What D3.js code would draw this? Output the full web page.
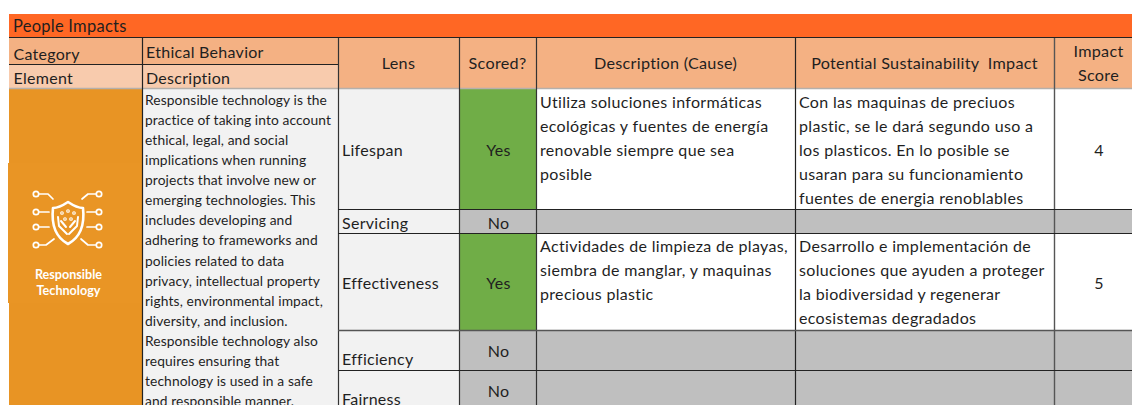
<!DOCTYPE html>
<html><head><meta charset="utf-8">
<script src="https://cdn.jsdelivr.net/npm/d3@7"></script>
<style>html,body{margin:0;padding:0;background:#fff;overflow:hidden}svg{display:block}text{font-family:Lato,"Open Sans",sans-serif;fill:#1f1f1f}</style>
</head><body><svg id="c" width="1132" height="405"></svg>
<script>
const title = "People Impacts";
const categoryLabel = "Category", categoryValue = "Ethical Behavior";
const elementLabel = "Element", elementValue = "Description";
const columnHeaders = ["Lens", "Scored?", "Description (Cause)", "Potential Sustainability  Impact", ["Impact", "Score"]];
const lenses = ["Lifespan", "Servicing", "Effectiveness", "Efficiency", "Fairness"];
const scored = ["Yes", "No", "Yes", "No", "No"];
const causes = [
  ["Utiliza soluciones informáticas", "ecológicas y fuentes de energía", "renovable siempre que sea", "posible"],
  [],
  ["Actividades de limpieza de playas,", "siembra de manglar, y maquinas", "precious plastic"],
  [], []
];
const impacts = [
  ["Con las maquinas de preciuos", "plastic, se le dará segundo uso a", "los plasticos. En lo posible se", "usaran para su funcionamiento", "fuentes de energia renoblables"],
  [],
  ["Desarrollo e implementación de", "soluciones que ayuden a proteger", "la biodiversidad y regenerar", "ecosistemas degradados"],
  [], []
];
const scores = [4, null, 5, null, null];
const elementDescription = ["Responsible technology is the", "practice of taking into account", "ethical, legal, and social", "implications when running", "projects that involve new or", "emerging technologies. This", "includes developing and", "adhering to frameworks and", "policies related to data", "privacy, intellectual property", "rights, environmental impact,", "diversity, and inclusion.", "Responsible technology also", "requires ensuring that", "technology is used in a safe", "and responsible manner."];
const iconLabel = ["Responsible", "Technology"];

// layout
const colEdges = [9, 142, 338, 459, 536, 795, 1054, 1132];
const rowEdges = [89, 209, 233, 330, 370, 415];
const C = {title:"#ff6724", head:"#f4b183", light:"#f8cbad", orange:"#e89424", lens:"#f2f2f2", descr:"#f2f2f2", green:"#70ad47", gray:"#bfbfbf", line:"#2b2b2b", soft:"#b5b0ab"};

const svg = d3.select("#c");
const rect = (x0,y0,x1,y1,f) => svg.append("rect").attr("x",x0).attr("y",y0).attr("width",x1-x0).attr("height",y1-y0).attr("fill",f);
const line = (x0,y0,x1,y1,s,w=1.2) => svg.append("line").attr("x1",x0).attr("y1",y0).attr("x2",x1).attr("y2",y1).attr("stroke",s).attr("stroke-width",w);
const DY = -1.5;
const text = (x,y,t,size,anchor="start",fill=null,weight=null,ls=null) => {
  const n = svg.append("text").attr("x",x).attr("y",y+DY).attr("font-size",size).attr("text-anchor",anchor).attr("dominant-baseline","central").text(t).style("white-space","pre");
  if(fill) n.style("fill",fill); if(weight) n.attr("font-weight",weight); if(ls) n.attr("letter-spacing",ls);
  return n;
};
const E = colEdges, mid = i => (E[i]+E[i+1])/2;
const LS = 0.28;

// banner and header backgrounds
rect(9,14,1132,37.5,C.title);
rect(9,38,338,64,C.head);
rect(9,65,338,88,C.light);
rect(338,38,1132,88,C.head);
text(13,27,title,16.5,"start",null,null,.25);
text(13.5,55,categoryLabel,16,"start",null,null,LS);
text(146,52.5,categoryValue,16,"start",null,null,LS);
text(13.5,79,elementLabel,16,"start",null,null,LS);
text(146,79,elementValue,16,"start",null,null,LS);
columnHeaders.forEach((h,i)=>{
  const cx = mid(i+2);
  if(Array.isArray(h)){ text(1098.5,52,h[0],16.2,"middle",null,null,LS); text(1098.5,76,h[1],16.2,"middle",null,null,LS); }
  else text(cx,64,h,16.2,"middle",null,null,LS);
});

// element column
rect(9,89,142,405,C.orange);
rect(8,163,142,303,"#e99525");
rect(142,89,338,405,C.descr);
const descY = d3.scaleLinear().domain([0,15]).range([101,402]);
elementDescription.forEach((t,i)=>text(145,descY(i),t,13.8,"start",null,null,.1));

// icon
const ic = svg.append("g").attr("fill","none").attr("stroke","#fff").attr("stroke-width",1.7).attr("stroke-linecap","round").attr("stroke-linejoin","round");
const wires = [[[39,194],[48,194],[53,199]],[[39,212],[49,212]],[[39,227],[49,227]],[[39,245],[46,245],[54,239]],[[96,194],[88,194],[82,199]],[[96,212],[87,212]],[[96,227],[87,227]],[[96,245],[88,245],[81,239]]];
wires.forEach((w,i)=>{
  ic.append("path").attr("d",d3.line()(w));
  ic.append("circle").attr("cx",w[0][0]+(i<4?-3:3)).attr("cy",w[0][1]).attr("r",2.7);
});
ic.append("path").attr("stroke-width",2.6).attr("d","M68 202 C62 206 57 208 53 208 C51 226 57 238 68 244 C79 238 85 226 83 208 C79 208 74 206 68 202Z");
ic.append("path").attr("stroke-width",2).attr("d","M58 217 L59 226 L67 234 M78 217 L77 226 L69 234 M61 221 L66 227 M75 221 L70 227");
ic.selectAll("circle.p").data([[62,213],[68,211],[74,213],[65,219],[71,219]]).enter().append("circle").attr("cx",d=>d[0]).attr("cy",d=>d[1]).attr("r",1.3).attr("stroke-width",1.1);
text(68.5,276,iconLabel[0],12.6,"middle","#fff","700");
text(68.5,292,iconLabel[1],12.6,"middle","#fff","700");

// rows
const rows = lenses.map((l,i)=>({l,s:scored[i],c:causes[i],m:impacts[i],v:scores[i],y0:rowEdges[i],y1:rowEdges[i+1]}));
const lensY = [150.5,223.5,283.5,360,400];
const scoredY = [150.5,223.5,283.5,352,392];
rows.forEach((r,i)=>{
  const yes = r.s==="Yes";
  rect(338,r.y0,459,r.y1,C.lens);
  rect(459,r.y0,536,r.y1,yes?C.green:C.gray);
  rect(536,r.y0,1132,r.y1,yes?"#fff":C.gray);
  text(342,lensY[i],r.l,16,"start",null,null,LS);
  text(498.5,scoredY[i],r.s,16,"middle",null,null,LS);
  const step = 24.1, top = r.y0+13.5;
  r.c.forEach((t,j)=>text(540,top+j*step,t,16,"start",null,null,.33));
  r.m.forEach((t,j)=>text(799,top+j*step,t,16,"start",null,null,.32));
  if(r.v!=null) text(1099,lensY[i],r.v,16,"middle",null,null,0);
});

// rules
line(9,37.5,1132,37.5,"#222");
line(9,64.5,338,64.5,"#222");
line(9,88.5,1132,88.5,C.soft,1.5);
line(142.5,38,142.5,405,"#222");
line(338.5,38,338.5,405,"#333");
line(459.5,38,459.5,405,"#333");
line(536.5,38,536.5,405,"#333");
line(795.5,38,795.5,405,"#222");
line(1054.5,38,1054.5,405,"#555",1.4);
[209.5,233.5,370.5].forEach(y=>line(338,y,1132,y,"#222"));
line(338,330.5,1132,330.5,"#555",1.4);
</script></body></html>
